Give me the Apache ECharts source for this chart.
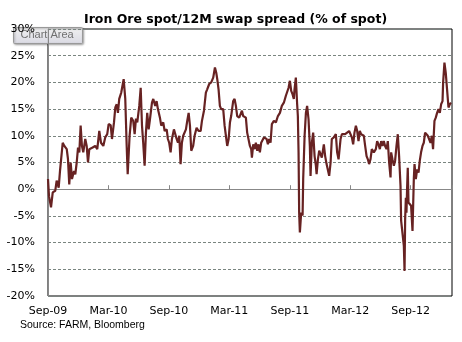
<!DOCTYPE html>
<html>
<head>
<meta charset="utf-8">
<script src="https://cdn.jsdelivr.net/npm/echarts@6/dist/echarts.min.js"></script>
<style>
html,body{margin:0;padding:0;background:#fff;}
#chart{width:462px;height:342px;}
</style>
</head>
<body>
<div id="chart"></div>
<script>
// x positions: months since 1 Sep 2009
const tickLabels = ['Sep-09','Mar-10','Sep-10','Mar-11','Sep-11','Mar-12','Sep-12'];
const months = [0.00,0.10,0.30,0.47,0.72,0.86,1.06,1.19,1.32,1.46,1.62,1.86,1.98,2.11,2.25,2.38,2.58,2.71,2.85,2.98,3.11,3.24,3.37,3.50,3.70,3.84,3.97,4.10,4.43,4.69,4.89,5.09,5.26,5.49,5.68,5.88,6.02,6.22,6.35,6.55,6.68,6.82,6.94,7.07,7.27,7.51,7.67,7.81,7.91,
7.99,8.10,8.26,8.46,8.60,8.73,8.86,9.06,9.20,9.33,9.45,9.59,9.72,9.85,9.99,10.12,10.32,10.45,10.64,10.78,10.91,11.11,11.24,11.44,11.58,11.78,11.90,12.03,12.17,12.30,12.50,12.63,12.77,12.90,13.03,13.16,13.29,13.42,13.56,13.69,13.82,13.96,14.09,14.22,14.41,14.55,14.75,14.95,15.15,15.28,15.48,15.67,15.80,16.00,16.20,
16.27,16.40,16.57,16.70,16.80,16.93,17.06,17.19,17.39,17.53,17.66,17.79,17.93,18.06,18.18,18.38,18.52,18.65,18.78,18.98,19.12,19.25,19.37,19.51,19.64,19.77,19.91,20.04,20.17,20.24,20.37,20.51,20.63,20.77,20.90,21.03,21.16,21.30,21.43,21.56,21.70,21.83,21.96,22.09,22.22,22.42,22.62,22.82,23.02,23.21,23.41,23.61,23.74,23.88,24.01,24.14,24.27,
24.40,24.47,24.60,24.73,24.80,24.87,24.93,25.00,25.13,25.27,25.33,25.47,25.60,25.72,25.86,25.99,26.06,26.19,26.32,26.46,26.59,26.66,26.79,26.92,27.05,27.18,27.38,27.51,27.65,27.78,27.91,28.05,28.17,28.37,28.57,28.70,28.84,29.04,29.17,29.30,29.49,29.69,29.89,30.03,30.16,30.29,30.42,30.56,30.68,30.82,30.95,31.08,31.22,31.35,31.48,31.62,31.75,31.87,32.01,32.14,32.34,
32.54,32.67,32.81,32.94,33.07,33.20,33.33,33.46,33.60,33.73,33.86,34.00,34.06,34.19,34.33,34.45,34.59,34.72,34.85,34.99,35.05,35.19,35.32,35.39,35.45,35.52,35.58,35.64,35.71,35.78,35.91,36.04,36.18,36.31,36.38,36.51,36.64,36.78,36.90,37.03,37.17,37.30,37.43,37.57,37.70,37.83,37.97,38.10,38.22,38.36,38.49,38.62,38.76,38.89,39.02,39.16,39.22,39.35,39.48,39.61,39.75,39.88,40.00];
const spread = [1.9,-1.3,-3.4,-0.6,-0.3,1.6,0.3,3.4,3.6,8.7,8.1,7.5,5.7,0.9,5.0,1.9,3.4,2.8,5.0,7.8,6.9,11.9,8.1,6.9,9.4,8.1,5.0,7.5,7.8,8.1,7.5,10.9,8.7,8.1,9.7,10.3,12.2,12.0,9.4,12.5,15.3,15.9,14.3,16.9,18.1,20.6,16.9,8.1,2.8,
3.1,10.0,13.4,12.8,10.3,13.2,12.5,15.6,19.0,11.9,8.7,4.4,10.6,14.3,11.2,13.1,16.2,16.9,15.6,16.5,15.0,13.4,11.9,12.5,10.9,11.2,9.4,8.7,6.9,9.4,11.2,11.5,9.4,8.7,10.0,4.7,8.7,10.0,9.7,11.2,12.8,14.3,11.9,7.2,8.1,10.0,11.5,10.9,10.9,12.8,14.7,18.1,18.7,19.7,20.0,
19.7,20.9,22.8,21.8,20.6,18.7,15.6,15.0,15.0,11.9,10.0,8.1,9.4,12.5,13.7,16.5,16.9,15.6,13.7,13.4,13.7,14.7,13.7,14.0,13.4,10.6,10.3,8.1,7.5,5.9,8.4,7.5,8.7,7.2,8.4,6.9,8.7,9.0,9.7,9.7,9.4,8.4,9.4,8.7,12.2,12.8,12.5,13.7,14.3,15.6,16.2,17.5,17.8,19.0,20.3,18.4,17.8,
16.9,18.7,20.9,15.9,13.7,6.9,-4.4,-8.1,-4.4,-4.9,1.9,10.0,14.3,15.6,13.1,8.1,2.5,8.7,10.6,6.2,4.4,2.8,5.6,7.2,6.9,5.9,8.4,6.2,4.7,4.4,2.5,5.0,9.4,9.7,10.3,6.9,5.6,9.4,10.3,10.6,10.3,10.6,10.9,11.2,9.7,8.4,10.6,11.9,11.0,9.0,10.9,10.3,10.3,10.0,8.1,6.2,5.6,4.7,5.6,7.5,6.9,
7.5,9.0,8.4,7.5,9.0,8.1,9.0,8.1,7.5,9.0,5.0,2.2,6.9,5.6,4.4,5.3,8.1,10.3,6.2,0.6,-5.9,-6.2,-10.6,-15.3,-5.6,-1.6,-4.4,0.0,4.0,-2.5,-2.5,-3.1,-7.8,1.9,4.7,1.9,3.7,3.1,5.3,6.9,8.1,8.7,10.6,10.3,10.0,10.3,8.7,10.0,7.5,12.8,13.4,14.3,15.0,14.3,15.9,16.5,20.0,23.7,21.8,18.7,15.3,15.9,16.2];

const titleText = 'Iron Ore spot/12M swap spread (% of spot)';
const sourceText = 'Source: FARM, Bloomberg';

const chart = echarts.init(document.getElementById('chart'), null, {renderer:'canvas'});
const data = months.map((m,i)=>[m, spread[i]]);
const axisFont = {fontFamily:'DejaVu Sans', fontSize:11, color:'#000'};

chart.setOption({
  animation:false,
  backgroundColor:'#fff',
  title:{
    text:titleText, left:79, top:8,
    textStyle:{fontFamily:'DejaVu Sans', fontWeight:'bold', fontSize:12.5, color:'#000'}
  },
  grid:{left:48, right:10, top:29, bottom:46, show:true, borderColor:'#000', borderWidth:1, backgroundColor:'transparent'},
  xAxis:[
    {type:'value', min:0, max:40.1, interval:6, position:'bottom',
     axisLine:{show:false, onZero:false}, axisTick:{show:false}, splitLine:{show:false},
     axisLabel:Object.assign({margin:10, showMaxLabel:false, formatter:v=>tickLabels[Math.round(v/6)]||''}, axisFont)},
    {type:'value', min:0, max:40.1, interval:6, position:'bottom',
     axisLine:{show:true, onZero:true, lineStyle:{color:'#888', width:1}},
     axisTick:{show:true, inside:true, length:4, lineStyle:{color:'#888'}},
     axisLabel:{show:false}, splitLine:{show:false}}
  ],
  yAxis:{type:'value', min:-20, max:30, interval:5,
    axisLine:{show:true, lineStyle:{color:'#888'}}, axisTick:{show:false},
    splitLine:{show:true, lineStyle:{color:'#7a8580', type:[3,2], width:1}},
    axisLabel:Object.assign({margin:13, formatter:'{value}%'}, axisFont)},
  series:[{type:'line', xAxisIndex:0, data:data, showSymbol:false, symbol:'none',
    lineStyle:{color:'#672222', width:2.2}, z:3}],
  graphic:[
    {type:'text', left:20, top:320, style:{text:sourceText, font:'10.5px "Liberation Sans"', fill:'#000'}},
    {type:'group', left:13, top:27, z:100, children:[
      {type:'rect', shape:{x:0,y:0,width:69,height:16, r:1},
       style:{fill:new echarts.graphic.LinearGradient(0,0,0,1,[{offset:0,color:'rgba(255,255,255,0.8)'},{offset:1,color:'rgba(226,226,238,0.8)'}]),
         stroke:'#999', lineWidth:1, shadowBlur:2, shadowOffsetX:1, shadowOffsetY:1, shadowColor:'rgba(0,0,0,0.35)'}},
      {type:'text', x:7, y:2, style:{text:'Chart Area', font:'11px "Liberation Sans"', fill:'#707070'}}
    ]}
  ]
});
</script>
</body>
</html>
